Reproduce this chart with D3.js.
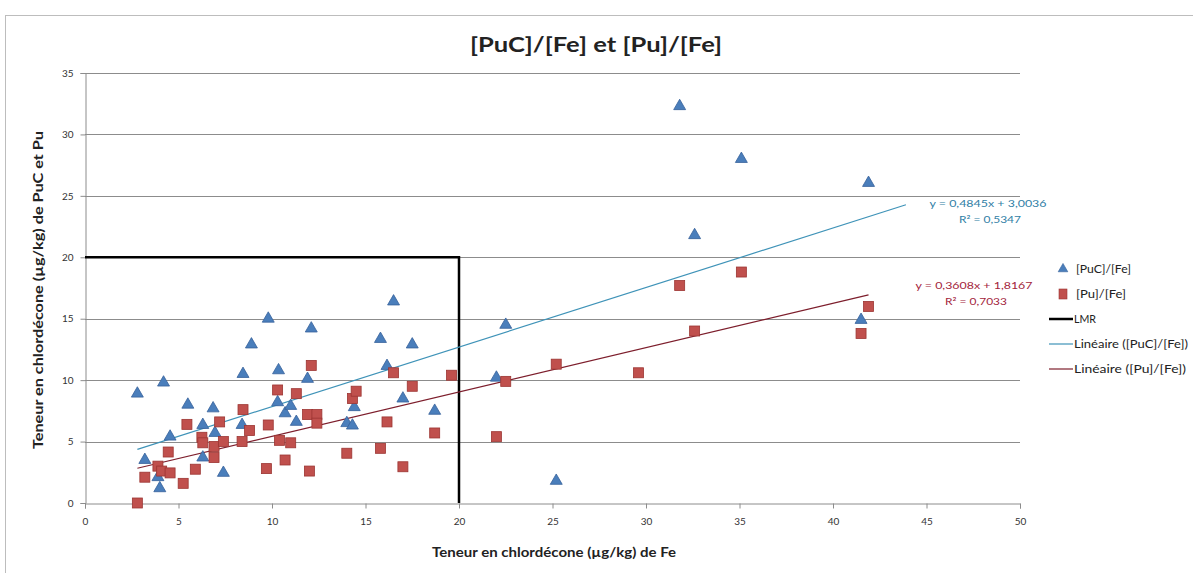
<!DOCTYPE html>
<html>
<head>
<meta charset="utf-8">
<script src="https://cdn.jsdelivr.net/npm/d3@7"></script>
<style>
  body { margin: 0; background: #fff; }
  text { font-family: Lato, "Open Sans", sans-serif; }
</style>
</head>
<body>
<svg id="chart" width="1193" height="573"></svg>
<script>
// [PuC]/[Fe] series
const pucX = [2.8, 3.2, 3.9, 4.0, 4.2, 4.55, 5.5, 6.3, 6.3, 6.85, 6.95, 7.4, 8.4, 8.45, 8.9, 9.8,
  10.35, 10.3, 10.7, 11.0, 11.3, 11.9, 12.1, 14.0, 14.3, 14.4, 15.8, 16.15, 16.5, 17.0, 17.5, 18.7,
  22.0, 22.5, 25.2, 31.8, 32.6, 35.1, 41.5, 41.9];
const pucY = [8.9, 3.5, 2.1, 1.2, 9.8, 5.4, 8.0, 6.35, 3.7, 7.7, 5.7, 2.45, 6.35, 10.5, 12.9, 15.0,
  10.8, 8.2, 7.3, 7.9, 6.6, 10.1, 14.2, 6.5, 6.3, 7.8, 13.35, 11.15, 16.4, 8.5, 12.9, 7.5,
  10.2, 14.5, 1.8, 32.3, 21.8, 28.0, 14.9, 26.05];

// [Pu]/[Fe] series
const puX = [2.8, 3.2, 3.9, 4.1, 4.45, 4.55, 5.25, 5.45, 5.9, 6.25, 6.3, 6.9, 6.9, 7.2, 7.4, 8.4,
  8.45, 8.8, 9.7, 9.8, 10.3, 10.4, 10.7, 11.0, 11.3, 11.9, 12.0, 12.1, 12.4, 12.4, 14.0, 14.3,
  14.5, 15.8, 16.15, 16.5, 17.0, 17.5, 18.7, 19.6, 22.0, 22.5, 25.2, 29.6, 31.8, 32.6, 35.1, 41.5, 41.9];
const puY = [0.0, 2.1, 3.0, 2.6, 4.15, 2.45, 1.6, 6.4, 2.75, 5.35, 4.9, 4.6, 3.7, 6.6, 5.0, 5.0,
  7.6, 5.9, 2.8, 6.35, 9.2, 5.1, 3.5, 4.9, 8.9, 7.2, 2.6, 11.2, 7.2, 6.5, 4.05, 8.5,
  9.1, 4.45, 6.6, 10.6, 2.95, 9.5, 5.7, 10.4, 5.4, 9.9, 11.3, 10.6, 17.7, 14.0, 18.8, 13.8, 16.0];

// Linear trend lines: slope, intercept, R² and x extent
const pucFit = { slope: 0.4845, intercept: 3.0036, r2: "0,5347", x0: 2.8, x1: 43.9 };
const puFit = { slope: 0.3608, intercept: 1.8167, r2: "0,7033", x0: 2.8, x1: 41.9 };

// LMR threshold (limit box)
const lmr = 20;

const xTicks = [0, 5, 10, 15, 20, 25, 30, 35, 40, 45, 50];
const yTicks = [0, 5, 10, 15, 20, 25, 30, 35];

const title = "[PuC]/[Fe] et [Pu]/[Fe]";
const xTitle = "Teneur en chlordécone (µg/kg) de Fe";
const yTitle = "Teneur en chlordécone (µg/kg) de PuC et Pu";
const legendItems = ["[PuC]/[Fe]", "[Pu]/[Fe]", "LMR", "Linéaire ([PuC]/[Fe])", "Linéaire ([Pu]/[Fe])"];

const blue = "#4a7ebb", blueEdge = "#36619a";
const red = "#c0504d", redEdge = "#9c3532";
const pucLineColor = "#3f93b8", puLineColor = "#7d1e2c";

const svg = d3.select("#chart");
const x = d3.scaleLinear().domain([0, 50]).range([85, 1020]);
const y = d3.scaleLinear().domain([0, 35]).range([503, 73]);

// stretch a label to a given width (condensed Excel-style lettering)
function fit(sel, len) {
  return sel.attr("textLength", len).attr("lengthAdjust", "spacingAndGlyphs");
}

// outer chart frame
svg.append("rect").attr("x", 5.5).attr("y", 15.5).attr("width", 1200).attr("height", 600)
  .attr("fill", "none").attr("stroke", "#bdbdbd").attr("stroke-width", 1);

// title
fit(svg.append("text").attr("x", 596).attr("y", 52).attr("text-anchor", "middle")
  .attr("font-size", 20).attr("font-weight", "bold").attr("fill", "#222").text(title), 252);

// horizontal gridlines
svg.append("g").selectAll("line").data(yTicks.filter(d => d > 0)).join("line")
  .attr("x1", x(0)).attr("x2", x(50))
  .attr("y1", d => Math.round(y(d)) + 0.5).attr("y2", d => Math.round(y(d)) + 0.5)
  .attr("stroke", "#8c8c8c").attr("stroke-width", 1);

// axes
const xAxis = svg.append("g").attr("transform", `translate(0,${Math.round(y(0)) + 0.5})`)
  .call(d3.axisBottom(x).tickValues(xTicks).tickSize(5).tickPadding(9).tickFormat(d3.format("d")));
const yAxis = svg.append("g").attr("transform", `translate(${Math.round(x(0)) + 0.5},0)`)
  .call(d3.axisLeft(y).tickValues(yTicks).tickSize(5).tickPadding(7).tickFormat(d3.format("d")));
[xAxis, yAxis].forEach(a => {
  a.select(".domain").attr("stroke", "#8c8c8c");
  a.selectAll(".tick line").attr("stroke", "#8c8c8c");
  a.selectAll(".tick text").attr("font-size", 10).attr("fill", "#333")
    .style("font-family", "Lato, sans-serif");
});

// axis titles
fit(svg.append("text").attr("x", 554).attr("y", 557).attr("text-anchor", "middle")
  .attr("font-size", 14).attr("font-weight", "bold").attr("fill", "#222").text(xTitle), 244);
fit(svg.append("text").attr("transform", "translate(43,290) rotate(-90)").attr("text-anchor", "middle")
  .attr("font-size", 14).attr("font-weight", "bold").attr("fill", "#222").text(yTitle), 318);

// LMR box
svg.append("path")
  .attr("d", d3.line()([[x(0), y(lmr)], [x(lmr), y(lmr)], [x(lmr), y(0)]]))
  .attr("fill", "none").attr("stroke", "#000").attr("stroke-width", 2.5);

// trend lines
function trend(f, color) {
  svg.append("line")
    .attr("x1", x(f.x0)).attr("y1", y(f.slope * f.x0 + f.intercept))
    .attr("x2", x(f.x1)).attr("y2", y(f.slope * f.x1 + f.intercept))
    .attr("stroke", color).attr("stroke-width", 1.2);
}
trend(pucFit, pucLineColor);
trend(puFit, puLineColor);

// markers
const tri = d3.symbol(d3.symbolTriangle, 62);
svg.append("g").selectAll("path").data(pucX.map((v, i) => [v, pucY[i]])).join("path")
  .attr("d", tri).attr("transform", d => `translate(${x(d[0])},${y(d[1])})`)
  .attr("fill", blue).attr("stroke", blueEdge).attr("stroke-width", 0.8);

svg.append("g").selectAll("rect").data(puX.map((v, i) => [v, puY[i]])).join("rect")
  .attr("x", d => x(d[0]) - 5).attr("y", d => y(d[1]) - 5).attr("width", 10).attr("height", 10)
  .attr("fill", red).attr("stroke", redEdge).attr("stroke-width", 0.8);

// equations
function eq(f, cx, cy, color) {
  const fmt = v => v.toFixed(4).replace(".", ",");
  fit(svg.append("text").attr("x", cx).attr("y", cy).attr("text-anchor", "middle")
    .attr("font-size", 10).attr("fill", color)
    .text(`y = ${fmt(f.slope)}x + ${fmt(f.intercept)}`), 117);
  fit(svg.append("text").attr("x", cx + 2).attr("y", cy + 16).attr("text-anchor", "middle")
    .attr("font-size", 10).attr("fill", color)
    .text(`R² = ${f.r2}`), 62);
}
eq(pucFit, 988, 207, "#2f7ea5");
eq(puFit, 974, 289, "#a3243b");

// legend
const lg = svg.append("g");
const ly = [269, 294, 319, 344, 369];
const lw = [55, 50, 22, 114, 112];
lg.append("path").attr("d", d3.symbol(d3.symbolTriangle, 40)())
  .attr("transform", `translate(1063,${ly[0]})`).attr("fill", blue).attr("stroke", blueEdge).attr("stroke-width", 0.6);
lg.append("rect").attr("x", 1059).attr("y", ly[1] - 5).attr("width", 8).attr("height", 10)
  .attr("fill", red).attr("stroke", redEdge).attr("stroke-width", 0.6);
lg.append("line").attr("x1", 1049).attr("x2", 1073).attr("y1", ly[2]).attr("y2", ly[2])
  .attr("stroke", "#000").attr("stroke-width", 2.5);
lg.append("line").attr("x1", 1049).attr("x2", 1073).attr("y1", ly[3]).attr("y2", ly[3])
  .attr("stroke", pucLineColor).attr("stroke-width", 1.2);
lg.append("line").attr("x1", 1049).attr("x2", 1073).attr("y1", ly[4]).attr("y2", ly[4])
  .attr("stroke", puLineColor).attr("stroke-width", 1.2);
lg.selectAll("text").data(legendItems).join("text")
  .attr("x", (d, i) => i < 2 ? 1076 : 1074).attr("y", (d, i) => ly[i] + 4)
  .attr("font-size", 11).attr("fill", "#222")
  .attr("textLength", (d, i) => lw[i]).attr("lengthAdjust", "spacingAndGlyphs")
  .text(d => d);
</script>
</body>
</html>
